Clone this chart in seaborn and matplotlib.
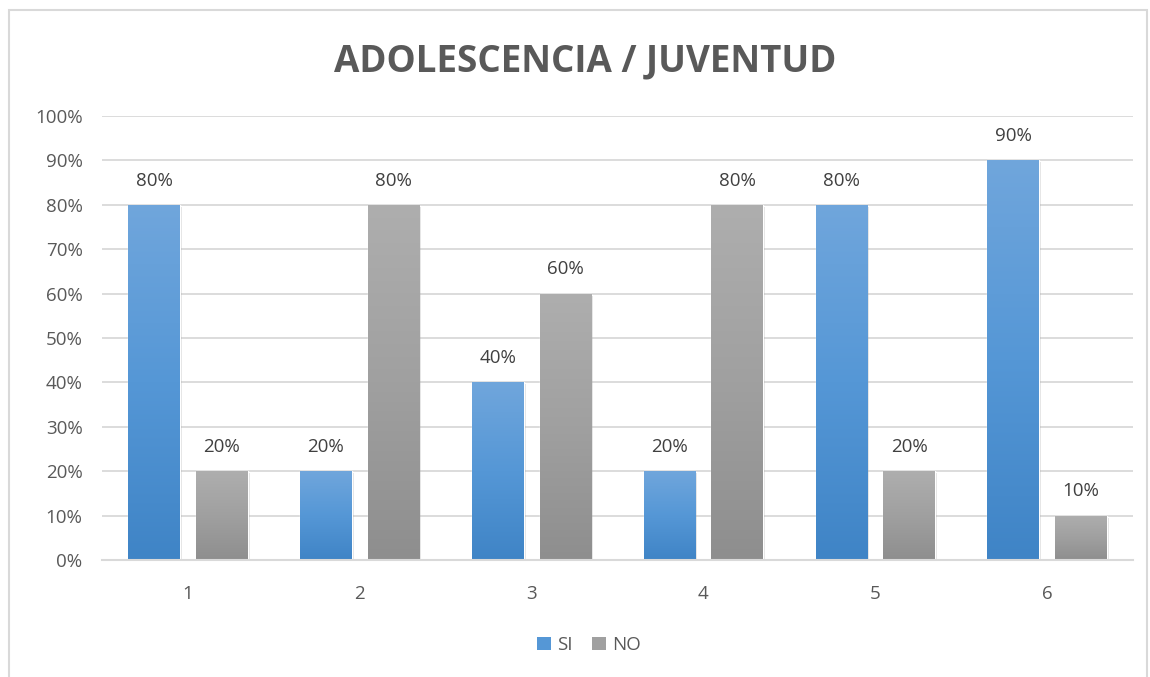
import numpy as np
import pandas as pd
import matplotlib
matplotlib.use("Agg")
import matplotlib.pyplot as plt
import seaborn as sns
from matplotlib.patches import Rectangle, Patch
from matplotlib.colors import LinearSegmentedColormap
import matplotlib.patheffects as pe

# ---- data ----
categories = ["1", "2", "3", "4", "5", "6"]
si_values = [80, 20, 40, 20, 80, 90]
no_values = [20, 80, 60, 80, 20, 10]
series_names = ["SI", "NO"]
y_ticks = [0, 10, 20, 30, 40, 50, 60, 70, 80, 90, 100]
title_text = "ADOLESCENCIA / JUVENTUD"

df = pd.DataFrame({
    "cat": categories * 2,
    "serie": ["SI"] * len(categories) + ["NO"] * len(categories),
    "val": si_values + no_values,
})

W, H = 1150, 677
sns.set_theme(style="white")
plt.rcParams['font.family'] = ['Open Sans', 'DejaVu Sans']

fig = plt.figure(figsize=(W / 100, H / 100), dpi=100)
ax = fig.add_axes([102 / W, 1 - 560 / H, (1133 - 102) / W, (560 - 116) / H])

base_colors = {"SI": "#5B9BD5", "NO": "#A5A5A5"}
sns.barplot(data=df, x="cat", y="val", hue="serie", hue_order=series_names,
            palette=base_colors, width=0.787, gap=0.237, ax=ax, legend=False,
            saturation=1, zorder=3)

ax.set_xlim(-0.5, 5.5)
ax.set_ylim(0, 100)

grads = {
    "SI": LinearSegmentedColormap.from_list("si", ["#3F84C6", "#5597D6", "#70A6DC"]),
    "NO": LinearSegmentedColormap.from_list("no", ["#8E8E8E", "#A0A0A0", "#AEAEAE"]),
}
grad = np.linspace(0, 1, 256).reshape(-1, 1)

bars = list(ax.patches)
n = len(categories)
for i, patch in enumerate(bars):
    key = series_names[i // n]
    x0, y0 = patch.get_x(), patch.get_y()
    w, h = patch.get_width(), patch.get_height()
    patch.set_path_effects([pe.SimplePatchShadow(offset=(1.5, -1.5), alpha=0.12, shadow_rgbFace="black"), pe.Normal()])
    im = ax.imshow(grad, extent=[x0, x0 + w, y0, y0 + h], origin="lower",
                   aspect="auto", cmap=grads[key], zorder=3.5)
    im.set_clip_path(patch)
    ax.annotate(f"{int(round(h))}%", (x0 + w / 2, y0 + h), xytext=(0, 11),
                textcoords="offset points", ha="center", va="bottom",
                fontsize=13.5, color="#404040")

ax.set_xlim(-0.5, 5.5)
ax.set_ylim(0, 100)
ax.set_yticks(y_ticks)
ax.set_yticklabels([f"{t}%" for t in y_ticks])
ax.yaxis.grid(True, color="#D9D9D9", lw=1.3)
ax.set_axisbelow(True)
for s in ["left", "right", "top"]:
    ax.spines[s].set_visible(False)
ax.spines["bottom"].set_color("#D9D9D9")
ax.spines["bottom"].set_linewidth(1.5)
ax.spines["bottom"].set_zorder(4)
ax.tick_params(axis="y", length=0, pad=14, labelsize=13.5, labelcolor="#595959")
ax.tick_params(axis="x", length=0, pad=18, labelsize=13.5, labelcolor="#595959")
ax.set_xlabel("")
ax.set_ylabel("")

fig.text(585 / W, 1 - 61 / H, title_text, ha="center", va="center",
         fontsize=26.5, fontweight="bold", color="#595959")

handles = [Patch(facecolor="#5597D6", edgecolor="none", label="SI"),
           Patch(facecolor="#A0A0A0", edgecolor="none", label="NO")]
fig.legend(handles=handles, loc="center", bbox_to_anchor=(589 / W, 1 - 645 / H),
           ncol=2, frameon=False, handlelength=0.75, handleheight=0.75,
           handletextpad=0.35, columnspacing=1.0, fontsize=13.5,
           labelcolor="#595959")

fig.patches.append(Rectangle((9 / W, -0.05), (1147 - 9) / W, 1.05 - 10 / H,
                             transform=fig.transFigure, fill=False,
                             edgecolor="#D9D9D9", lw=1.5))

fig.savefig("out.png", dpi=100, facecolor="white")
